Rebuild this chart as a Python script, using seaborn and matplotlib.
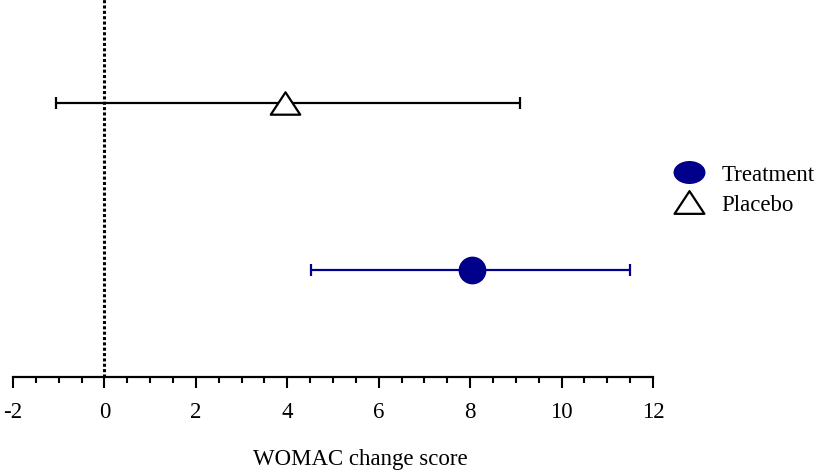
import numpy as np
import pandas as pd
import matplotlib.pyplot as plt
from matplotlib.path import Path
from matplotlib.lines import Line2D
import seaborn as sns

# forest-style summary: point estimate with 95% CI per group
GROUPS = ['Placebo', 'Treatment']
ESTIMATE = [3.95, 8.03]
CI_LOW = [-1.06, 4.52]
CI_HIGH = [9.09, 11.5]
Y_POS = [1, 0]

XTICKS = [-2, 0, 2, 4, 6, 8, 10, 12]
XLABEL = 'WOMAC change score'

COLOURS = {'Placebo': 'black', 'Treatment': '#00008B'}
FS = 16.5

sns.set_style('white')
plt.rcParams['font.family'] = ['Liberation Serif', 'DejaVu Serif']
plt.rcParams['text.color'] = 'black'
plt.rcParams['axes.labelcolor'] = 'black'
plt.rcParams['xtick.color'] = 'black'

df = pd.DataFrame({'group': GROUPS, 'est': ESTIMATE, 'lo': CI_LOW,
                   'hi': CI_HIGH, 'y': Y_POS})

# squat triangle and wide ellipse, as in the original
triangle = Path([(0, 0.76), (-1, -0.76), (1, -0.76), (0, 0.76)],
                [Path.MOVETO, Path.LINETO, Path.LINETO, Path.CLOSEPOLY])
circ = Path.unit_circle()
ellipse = Path(circ.vertices * np.array([1.0, 0.72]), circ.codes)

fig = plt.figure(figsize=(8.17, 4.77), dpi=100)
ax = fig.add_axes([13 / 817, 1 - 378 / 477, 640 / 817, 378 / 477])

ax.axvline(0, color='black', lw=2.2, ls=(0, (1.0, 0.75)), zorder=1)

for _, row in df.iterrows():
    c = COLOURS[row['group']]
    ax.errorbar(row['est'], row['y'],
                xerr=[[row['est'] - row['lo']], [row['hi'] - row['est']]],
                fmt='none', ecolor=c, elinewidth=1.6, capsize=4.5,
                capthick=1.6, zorder=2)

sns.scatterplot(data=df[df['group'] == 'Treatment'], x='est', y='y',
                marker='o', s=400, color=COLOURS['Treatment'],
                edgecolor=COLOURS['Treatment'], linewidth=0, zorder=3, ax=ax)
sns.scatterplot(data=df[df['group'] == 'Placebo'], x='est', y='y',
                marker=triangle, s=450, facecolor='white', edgecolor='black',
                linewidth=1.6, zorder=3, ax=ax)

ax.set_xlim(-2, 12)
ax.set_ylim(-0.641, 1.623)
ax.set_xticks(XTICKS)
ax.set_xticklabels([str(t) for t in XTICKS])
ax.set_xticks(np.arange(-2, 12.01, 0.5), minor=True)
ax.set_yticks([])
ax.tick_params(axis='x', which='major', direction='out', length=8, width=1.5,
               labelsize=FS, pad=9, bottom=True, colors='black')
ax.tick_params(axis='x', which='minor', direction='out', length=4.5, width=1.5,
               bottom=True, colors='black')
ax.set_xlabel(XLABEL, fontsize=FS, labelpad=19, color='black')
ax.xaxis.label.set_x((360 - 13) / 640)
ax.set_ylabel('')
ax.spines[['top', 'right', 'left']].set_visible(False)
ax.spines['bottom'].set_linewidth(1.6)
ax.spines['bottom'].set_color('black')

handles = [
    Line2D([], [], ls='none', marker=ellipse, markersize=23,
           markerfacecolor=COLOURS['Treatment'], markeredgewidth=0),
    Line2D([], [], ls='none', marker=triangle, markersize=21.5,
           markerfacecolor='white', markeredgecolor='black', markeredgewidth=1.6),
]
fig.legend(handles, ['Treatment', 'Placebo'], loc='center left',
           bbox_to_anchor=(0.798, 0.6), frameon=False, fontsize=FS,
           handletextpad=0.72, labelspacing=0.4, handlelength=1.4,
           labelcolor='black')

fig.savefig('out.png', dpi=100)
